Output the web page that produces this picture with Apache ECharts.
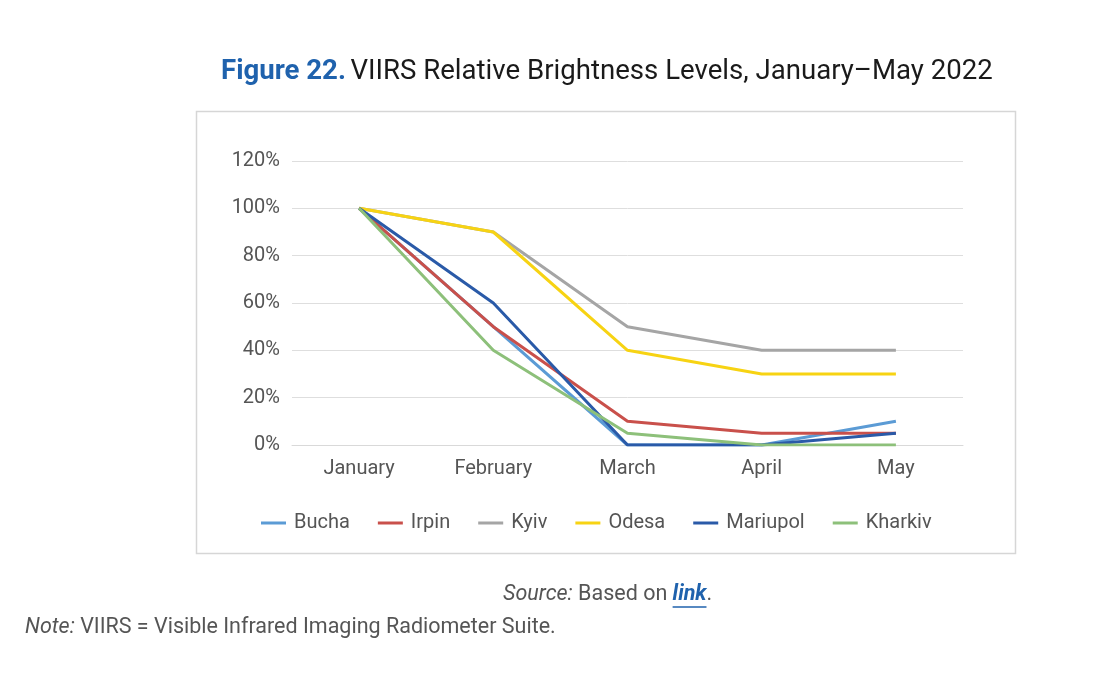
<!DOCTYPE html>
<html>
<head>
<meta charset="utf-8">
<script src="https://cdn.jsdelivr.net/npm/echarts@6/dist/echarts.min.js"></script>
<style>
html,body{margin:0;padding:0;background:#fff;}
#c{width:1102px;height:682px;}
</style>
</head>
<body>
<div id="c"></div>
<script>
const categories = ['January', 'February', 'March', 'April', 'May'];
const bucha = [100, 50, 0, 0, 10];
const irpin = [100, 50, 10, 5, 5];
const kyiv = [100, 90, 50, 40, 40];
const odesa = [100, 90, 40, 30, 30];
const mariupol = [100, 60, 0, 0, 5];
const kharkiv = [100, 40, 5, 0, 0];
const seriesNames = ['Bucha', 'Irpin', 'Kyiv', 'Odesa', 'Mariupol', 'Kharkiv'];
const seriesData = [bucha, irpin, kyiv, odesa, mariupol, kharkiv];
const colors = ['#5b9bd5', '#c9504b', '#a5a5a5', '#f7d313', '#2a5aa8', '#8dc07a'];

const FONT = 'Roboto';
const NOTE_SIZE = 21.5;

// measure text for underline placement under "link"
const mc = document.createElement('canvas').getContext('2d');
mc.font = 'italic ' + NOTE_SIZE + 'px ' + FONT;
const wSource = mc.measureText('Source:').width;
mc.font = NOTE_SIZE + 'px ' + FONT;
const wBased = mc.measureText(' Based on ').width;
mc.font = 'italic bold ' + NOTE_SIZE + 'px ' + FONT;
const wLink = mc.measureText('link').width;
const srcLeft = 503;
const linkX = srcLeft + wSource + wBased;

const chart = echarts.init(document.getElementById('c'), null, {renderer: 'canvas'});
chart.setOption({
  animation: false,
  color: colors,
  textStyle: {fontFamily: FONT},
  title: {
    left: 216, top: 53,
    text: '{a|Figure 22.} {b|VIIRS Relative Brightness Levels, January–May 2022}',
    textStyle: {
      rich: {
        a: {fontFamily: FONT, fontSize: 27.6, fontWeight: 'bold', color: '#1f62ad'},
        b: {fontFamily: FONT, fontSize: 27.6, fontWeight: 'normal', color: '#1a1a1a'}
      }
    }
  },
  graphic: [
    {type: 'rect', shape: {x: 196.5, y: 111.5, width: 819, height: 442},
     style: {fill: 'none', stroke: '#d6d6d6', lineWidth: 1.5}, silent: true, z: -1},
    {type: 'text', left: srcLeft, top: 584,
     style: {text: '{i|Source:}{n| Based on }{l|link}{n|.}',
       rich: {
         i: {fontFamily: FONT, fontSize: NOTE_SIZE, fontStyle: 'italic', fill: '#555555'},
         n: {fontFamily: FONT, fontSize: NOTE_SIZE, fill: '#555555'},
         l: {fontFamily: FONT, fontSize: NOTE_SIZE, fontStyle: 'italic', fontWeight: 'bold', fill: '#1f62ad'}
       }}},
    {type: 'line', shape: {x1: linkX, y1: 607, x2: linkX + wLink, y2: 607},
     style: {stroke: '#1f62ad', lineWidth: 1.3}},
    {type: 'text', left: 25, top: 617,
     style: {text: '{i|Note:}{n| VIIRS = Visible Infrared Imaging Radiometer Suite.}',
       rich: {
         i: {fontFamily: FONT, fontSize: NOTE_SIZE, fontStyle: 'italic', fill: '#555555'},
         n: {fontFamily: FONT, fontSize: NOTE_SIZE, fill: '#555555'}
       }}}
  ],
  grid: {left: 292, right: 139, top: 161, bottom: 237, containLabel: false},
  legend: {
    top: 508, left: 256,
    icon: 'rect', itemWidth: 25, itemHeight: 3, itemGap: 28,
    textStyle: {fontFamily: FONT, fontSize: 20, color: '#555555', padding: [0, 0, 0, 3]},
    data: seriesNames
  },
  xAxis: {
    type: 'category', data: categories, boundaryGap: true,
    axisLine: {lineStyle: {color: '#d9d9d9'}},
    axisTick: {show: false},
    axisLabel: {fontFamily: FONT, fontSize: 20, color: '#555555', margin: 14}
  },
  yAxis: {
    type: 'value', min: 0, max: 120, interval: 20,
    axisLine: {show: false}, axisTick: {show: false},
    splitLine: {lineStyle: {color: '#dedede'}},
    axisLabel: {fontFamily: FONT, fontSize: 20, color: '#555555', margin: 12, formatter: '{value}%'}
  },
  series: seriesNames.map((n, i) => ({
    name: n, type: 'line', data: seriesData[i],
    symbol: 'none', lineStyle: {width: 3, color: colors[i]},
    itemStyle: {color: colors[i]}
  }))
});
</script>
</body>
</html>
